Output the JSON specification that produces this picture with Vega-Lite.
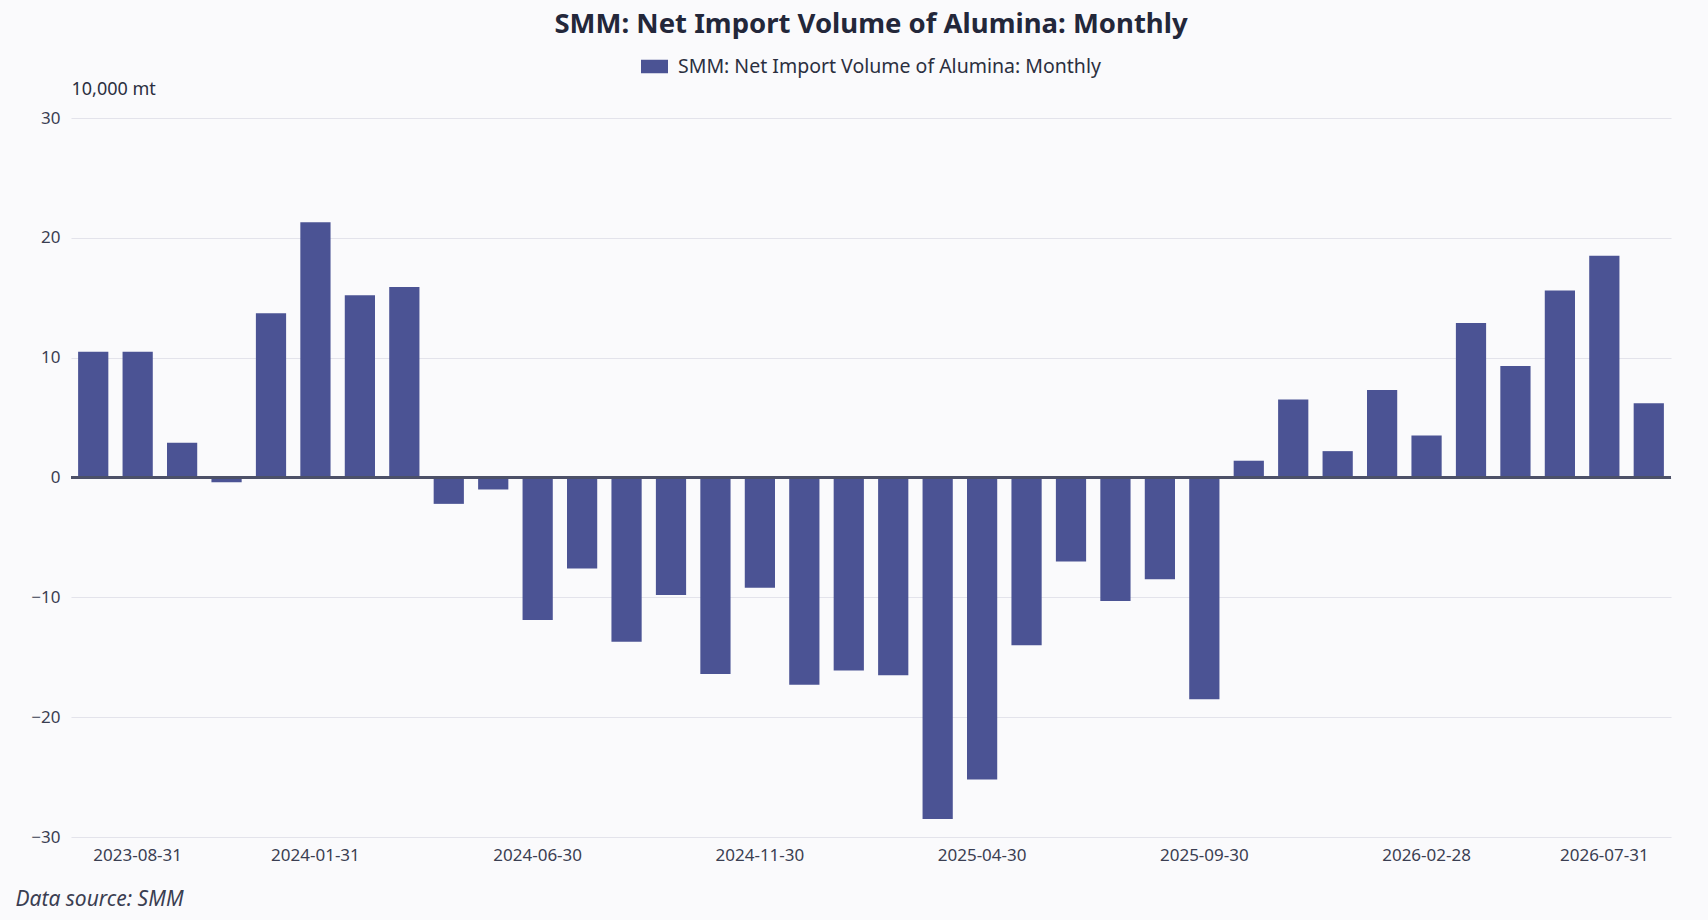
{
  "$schema": "https://vega.github.io/schema/vega-lite/v6.json",
  "description": "SMM: Net Import Volume of Alumina: Monthly",
  "width": 1600,
  "height": 719,
  "autosize": {"type": "none"},
  "padding": {"left": 71, "top": 118, "right": 37, "bottom": 83},
  "background": "#fafafc",
  "config": {
    "font": "Noto Sans",
    "view": {"stroke": null}
  },
  "title": {
    "text": "SMM: Net Import Volume of Alumina: Monthly",
    "anchor": "middle",
    "fontSize": 27.5,
    "fontWeight": "bold",
    "color": "#23273a",
    "offset": 15
  },
  "data": {
    "values": [
      {"date": "2023-07-31", "value": 10.5},
      {"date": "2023-08-31", "value": 10.5},
      {"date": "2023-09-30", "value": 2.9},
      {"date": "2023-10-31", "value": -0.4},
      {"date": "2023-11-30", "value": 13.7},
      {"date": "2024-01-31", "value": 21.3},
      {"date": "2024-02-29", "value": 15.2},
      {"date": "2024-03-31", "value": 15.9},
      {"date": "2024-04-30", "value": -2.2},
      {"date": "2024-05-31", "value": -1.0},
      {"date": "2024-06-30", "value": -11.9},
      {"date": "2024-07-31", "value": -7.6},
      {"date": "2024-08-31", "value": -13.7},
      {"date": "2024-09-30", "value": -9.8},
      {"date": "2024-10-31", "value": -16.4},
      {"date": "2024-11-30", "value": -9.2},
      {"date": "2024-12-31", "value": -17.3},
      {"date": "2025-01-31", "value": -16.1},
      {"date": "2025-02-28", "value": -16.5},
      {"date": "2025-03-31", "value": -28.5},
      {"date": "2025-04-30", "value": -25.2},
      {"date": "2025-05-31", "value": -14.0},
      {"date": "2025-06-30", "value": -7.0},
      {"date": "2025-07-31", "value": -10.3},
      {"date": "2025-08-31", "value": -8.5},
      {"date": "2025-09-30", "value": -18.5},
      {"date": "2025-10-31", "value": 1.4},
      {"date": "2025-11-30", "value": 6.5},
      {"date": "2025-12-31", "value": 2.2},
      {"date": "2026-01-31", "value": 7.3},
      {"date": "2026-02-28", "value": 3.5},
      {"date": "2026-03-31", "value": 12.9},
      {"date": "2026-04-30", "value": 9.3},
      {"date": "2026-05-31", "value": 15.6},
      {"date": "2026-07-31", "value": 18.5},
      {"date": "2026-08-31", "value": 6.2}
    ]
  },
  "layer": [
    {
      "mark": {"type": "bar"},
      "encoding": {
        "x": {
          "field": "date",
          "type": "ordinal",
          "scale": {"paddingInner": 0.32, "paddingOuter": 0.16},
          "axis": {
            "values": ["2023-08-31", "2024-01-31", "2024-06-30", "2024-11-30", "2025-04-30", "2025-09-30", "2026-02-28", "2026-07-31"],
            "labelAngle": 0,
            "ticks": false,
            "domain": false,
            "grid": false,
            "labelPadding": 10,
            "labelFontSize": 17,
            "labelColor": "#3a3e52",
            "title": "Data source: SMM",
            "titleX": -56,
            "titleY": 62,
            "titleAlign": "left",
            "titleBaseline": "middle",
            "titleFontStyle": "italic",
            "titleFontWeight": "normal",
            "titleFontSize": 21,
            "titleColor": "#3a3e52"
          }
        },
        "y": {
          "field": "value",
          "type": "quantitative",
          "scale": {"domain": [-30, 30], "nice": false},
          "axis": {
            "values": [-30, -20, -10, 0, 10, 20, 30],
            "domain": false,
            "ticks": false,
            "gridColor": "#e3e3eb",
            "labelPadding": 11,
            "labelFontSize": 17,
            "labelColor": "#3a3e52",
            "title": "10,000 mt",
            "titleAngle": 0,
            "titleX": 0,
            "titleY": -29,
            "titleAlign": "left",
            "titleBaseline": "middle",
            "titleFontWeight": "normal",
            "titleFontSize": 18,
            "titleColor": "#2b2f40"
          }
        },
        "color": {
          "datum": "SMM: Net Import Volume of Alumina: Monthly",
          "type": "nominal",
          "scale": {"range": ["#4b5394"]},
          "legend": {
            "orient": "none",
            "legendX": 570,
            "legendY": -65,
            "title": null,
            "symbolType": "M-1,-0.5H1V0.5H-1Z",
            "symbolSize": 729,
            "symbolStrokeWidth": 0,
            "labelFontSize": 19.5,
            "labelLimit": 0,
            "labelColor": "#2b2f40",
            "labelOffset": 10
          }
        }
      }
    },
    {
      "mark": {"type": "rule", "color": "#4d5168", "strokeWidth": 1.5},
      "encoding": {"y": {"datum": 0}}
    }
  ]
}
